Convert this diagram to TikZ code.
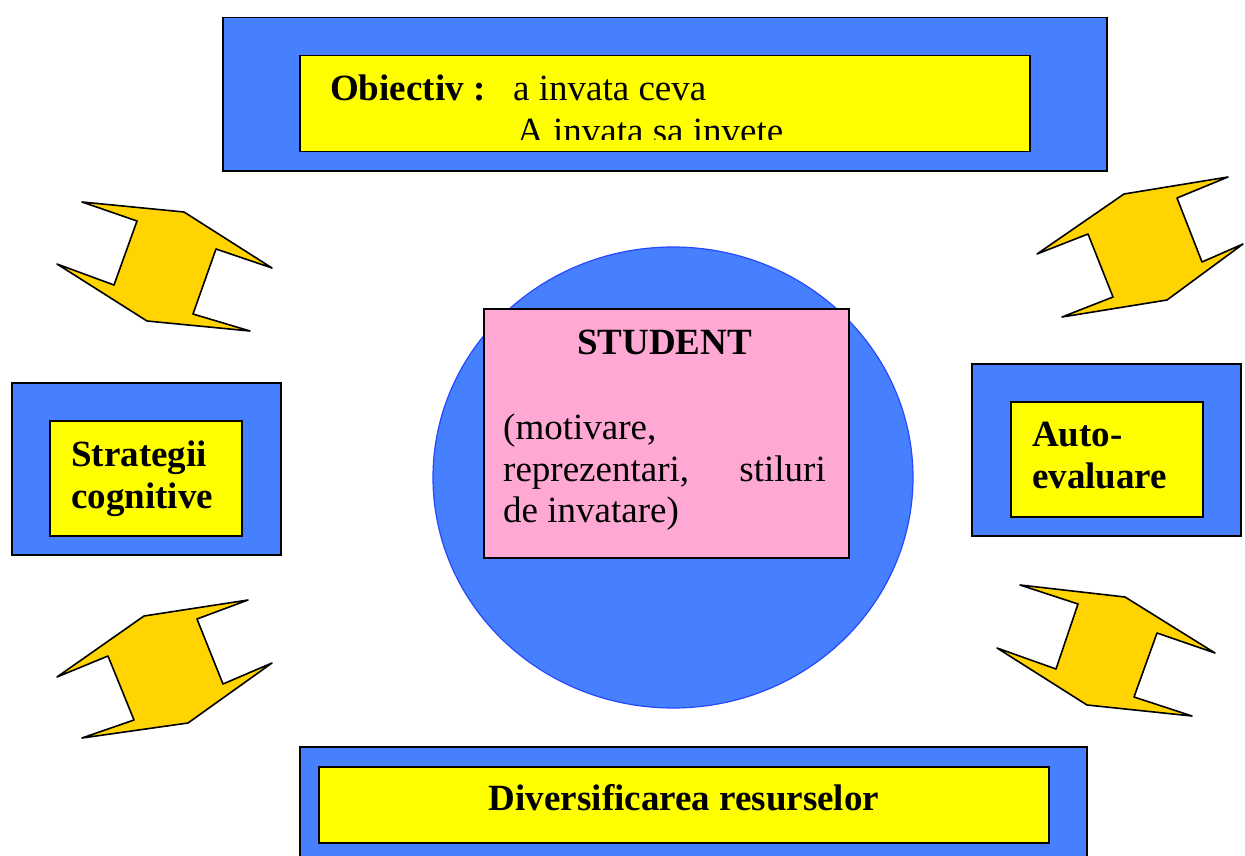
\documentclass[tikz,border=0pt]{standalone}
\usepackage{fontspec}
\setmainfont{Liberation Serif}
\definecolor{blueFill}{RGB}{70,128,255}
\definecolor{circLine}{RGB}{40,72,255}
\definecolor{yel}{RGB}{255,255,0}
\definecolor{gold}{RGB}{255,212,0}
\definecolor{pinkFill}{RGB}{255,168,212}
\tikzset{
  outerbox/.style={draw=black, line width=1.5pt, fill=blueFill, rectangle, inner sep=0pt, anchor=north west},
  innerbox/.style={draw=black, line width=1.5pt, fill=yel, rectangle, inner sep=0pt, anchor=north west},
  pinkbox/.style={draw=black, line width=1.5pt, fill=pinkFill, rectangle, inner sep=0pt, anchor=north west},
  bolt/.style={draw=black, line width=1.6pt, fill=gold, line join=round},
  txt/.style={inner sep=0pt, anchor=base west, font=\fontsize{37}{42}\selectfont},
  btxt/.style={txt, font=\fontsize{37}{42}\selectfont\bfseries},
}
\begin{document}
\begin{tikzpicture}[x=1pt,y=-1pt]
\useasboundingbox (0,0) rectangle (1245,856);
% top box
\node[outerbox, minimum width=884pt, minimum height=153pt] (topOuter) at (222,17) {};
\node[innerbox, minimum width=730pt, minimum height=96pt] (topInner) at (299,55) {};
\node[btxt] (obj) at (330,101) {Obiectiv :};
\node[txt] (obj1) at (513,101) {a invata ceva};
\begin{scope}
\clip (299,55) rectangle (1029,140);
\node[txt] (obj2) at (517,143) {A invata sa invete};
\end{scope}
% left box
\node[outerbox, minimum width=269pt, minimum height=172pt] (leftOuter) at (11,382) {};
\node[innerbox, minimum width=192pt, minimum height=115pt] (leftInner) at (49,420) {};
\node[btxt] (strat1) at (71,466) {Strategii};
\node[btxt] (strat2) at (71,508) {cognitive};
% right box
\node[outerbox, minimum width=269pt, minimum height=172pt] (rightOuter) at (971,363) {};
\node[innerbox, minimum width=192pt, minimum height=115pt] (rightInner) at (1010,401) {};
\node[btxt] (auto1) at (1032,446) {Auto-};
\node[btxt] (auto2) at (1032,488) {evaluare};
% bottom box
\node[outerbox, minimum width=787pt, minimum height=130pt] (botOuter) at (299,746) {};
\node[innerbox, minimum width=730pt, minimum height=76pt] (botInner) at (318,766) {};
\node[btxt, anchor=base] (div) at (684,810) {Diversificarea resurselor};
% centre
\draw[draw=circLine, line width=1.2pt, fill=blueFill] (673,477.5) ellipse (240pt and 230.5pt);
\node[pinkbox, minimum width=365pt, minimum height=249pt] (stud) at (483,308) {};
\node[btxt, anchor=base] (studT) at (664.5,354) {STUDENT};
\node[txt] (s1) at (503,439) {(motivare,};
\node[txt] (s2) at (503,481) {reprezentari,};
\node[txt, anchor=base east] (s2b) at (826,481) {stiluri};
\node[txt] (s3) at (503,522) {de invatare)};
% bolts
\draw[bolt] (82,202) -- (184,212) -- (272,268) -- (216,249) -- (193,314) -- (250,331) -- (147,321) -- (57,264) -- (114,285) -- (137,221) -- cycle;
\draw[bolt] (1228,177) -- (1177,198) -- (1202,262) -- (1243,244) -- (1167,300) -- (1062,317) -- (1113,297) -- (1088,234) -- (1037,254) -- (1124,194) -- cycle;
\draw[bolt] (248,600) -- (197,619) -- (223,684) -- (272,663) -- (188,723) -- (82,738) -- (134,720) -- (108,656) -- (57,677) -- (144,616) -- cycle;
\draw[bolt] (1020,585) -- (1125,597) -- (1215,653) -- (1157,633) -- (1134,697) -- (1192,716) -- (1087,705) -- (997,648) -- (1056,669) -- (1078,604) -- cycle;
\end{tikzpicture}
\end{document}
